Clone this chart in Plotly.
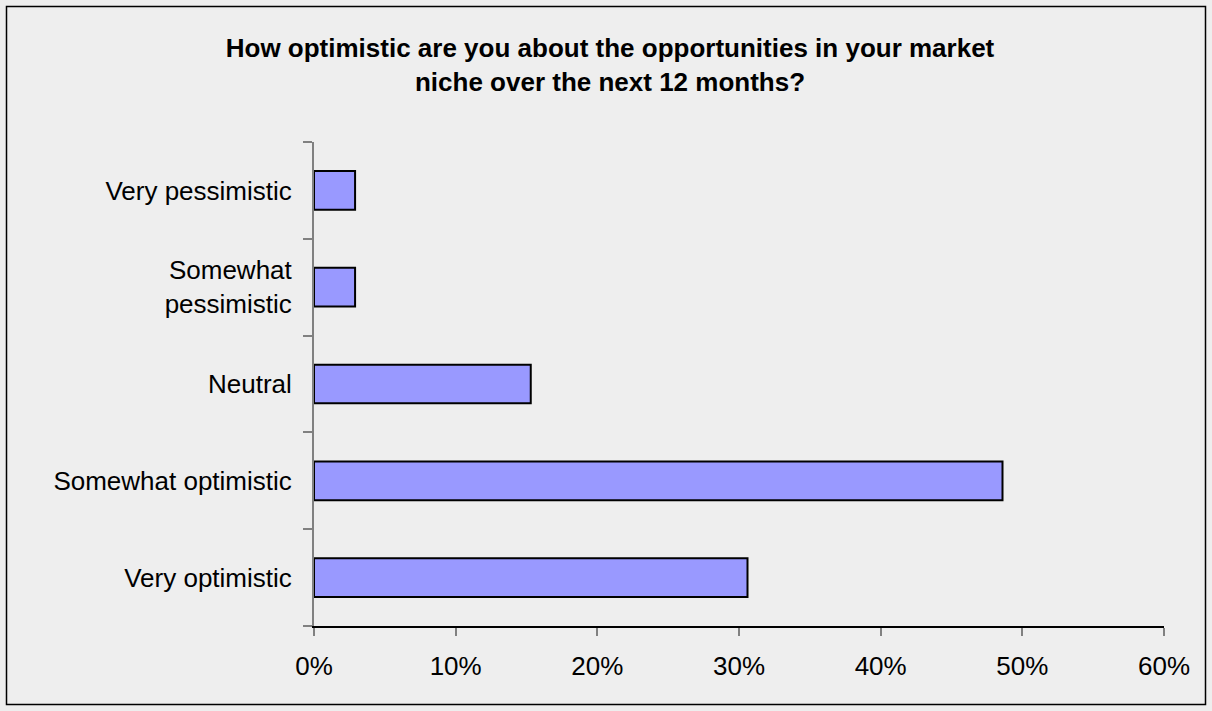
import plotly.graph_objects as go

# Survey responses (share of respondents, %), listed bottom to top
categories = [
    "Very optimistic",
    "Somewhat optimistic",
    "Neutral",
    "Somewhat<br>pessimistic",
    "Very pessimistic",
]
shares = [30.6, 48.6, 15.3, 2.9, 2.9]
x_ticks = [0, 10, 20, 30, 40, 50, 60]
x_tick_labels = ["0%", "10%", "20%", "30%", "40%", "50%", "60%"]

title_text = ("How optimistic are you about the opportunities in your market<br>"
              "niche over the next 12 months?")

W, H = 1212, 711
ML, MR, MT, MB = 314, 48, 142, 85
plot_w = W - ML - MR
plot_h = H - MT - MB

def px_to_paper_x(px):
    return (px - ML) / plot_w

def px_to_paper_y(py):
    return (H - MB - py) / plot_h

FONT = "Liberation Sans, Arial, sans-serif"

fig = go.Figure(
    go.Bar(
        x=shares,
        y=categories,
        orientation="h",
        marker=dict(color="#9999ff", line=dict(color="#000000", width=2)),
        hoverinfo="x+y",
    )
)

fig.update_layout(
    width=W,
    height=H,
    margin=dict(l=ML, r=MR, t=MT, b=MB),
    paper_bgcolor="#eeeeee",
    plot_bgcolor="#eeeeee",
    bargap=0.6,
    showlegend=False,
    font=dict(family=FONT, color="#000000"),
    title=dict(
        text=title_text,
        font=dict(family=FONT, size=26, color="#000000", weight="bold"),
        x=610 / W,
        xanchor="center",
        xref="container",
        y=1 - 57 / H,
        yanchor="middle",
        yref="container",
    ),
    shapes=[
        dict(
            type="rect",
            xref="paper",
            yref="paper",
            x0=px_to_paper_x(6.5),
            x1=px_to_paper_x(1205.5),
            y0=px_to_paper_y(704.5),
            y1=px_to_paper_y(6.5),
            line=dict(color="#000000", width=1.5),
            fillcolor="rgba(0,0,0,0)",
            layer="below",
        )
    ],
)

fig.update_xaxes(
    range=[0, 60],
    tickvals=x_ticks,
    ticktext=x_tick_labels,
    showgrid=False,
    zeroline=False,
    showline=True,
    linecolor="#000000",
    linewidth=1.5,
    ticks="outside",
    ticklen=8,
    tickcolor="#808080",
    tickwidth=1.5,
    ticklabelstandoff=8,
    tickfont=dict(family=FONT, size=26, color="#000000"),
    fixedrange=True,
)

fig.update_yaxes(
    categoryorder="array",
    categoryarray=categories,
    showgrid=False,
    zeroline=False,
    showline=True,
    linecolor="#808080",
    linewidth=2,
    ticks="outside",
    tickson="boundaries",
    ticklen=9,
    tickcolor="#808080",
    tickwidth=1.5,
    ticklabelstandoff=15,
    tickfont=dict(family=FONT, size=26, color="#000000"),
    fixedrange=True,
)

fig.write_html("out.html")
